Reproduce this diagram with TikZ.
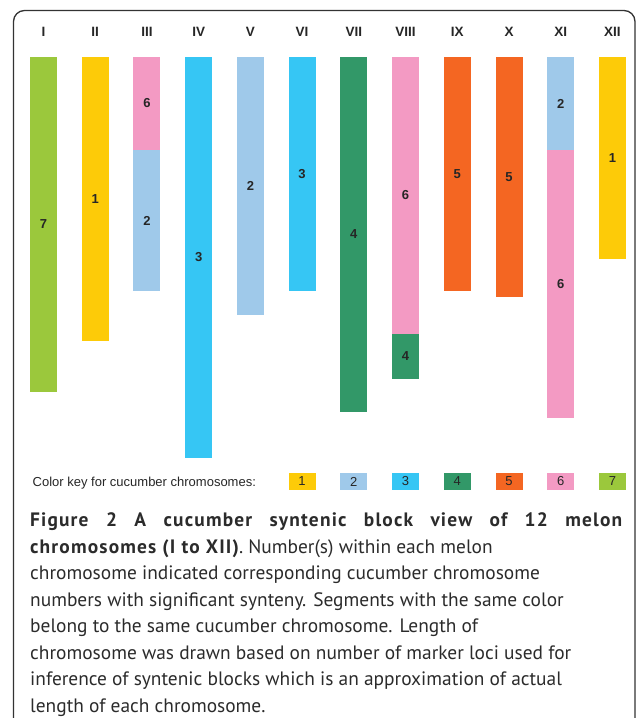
\documentclass[tikz,border=0pt]{standalone}
\usepackage{fontspec}
\setmainfont{Liberation Sans}
\newfontfamily\capfont[BoldFeatures={LetterSpace=6}]{PT Sans}
\definecolor{cyellow}{HTML}{FDCB08}
\definecolor{clblue}{HTML}{9FC9EA}
\definecolor{ccyan}{HTML}{36C6F4}
\definecolor{cdgreen}{HTML}{329868}
\definecolor{corange}{HTML}{F46622}
\definecolor{cpink}{HTML}{F39AC3}
\definecolor{cgreen}{HTML}{9BC83C}
\definecolor{captext}{HTML}{2B2B2B}
\tikzset{
  seg/.style={rectangle, inner sep=0pt, minimum width=27pt, font=\bfseries\fontsize{13}{13}\selectfont, text=black!85},
  hdr/.style={inner sep=0pt, font=\bfseries\fontsize{13.5}{13.5}\selectfont, text=black!85},
  keybox/.style={rectangle, inner sep=0pt, minimum width=27pt, minimum height=17pt, font=\fontsize{13}{13}\selectfont, text=black!85},
  keytext/.style={inner sep=0pt, anchor=west, font=\fontsize{13}{13}\selectfont, text=black!85},
  capline/.style={inner sep=0pt, anchor=base west, font=\capfont\fontsize{19.4}{21}\selectfont, text=captext},
  frame/.style={line width=1.3pt, draw=black!80, rounded corners=11pt}
}
\begin{document}
\begin{tikzpicture}[x=1pt,y=-1pt]
\useasboundingbox (0,0) rectangle (636,718);
\clip (0,0) rectangle (636,718);
\draw[frame] (13.5,10.5) rectangle (635,735);
% header labels
\node[hdr] (hI) at (43.5,31.7) {I};
\node[hdr] (hII) at (95.2,31.7) {II};
\node[hdr] (hIII) at (146.9,31.7) {III};
\node[hdr] (hIV) at (198.7,31.7) {IV};
\node[hdr] (hV) at (250.4,31.7) {V};
\node[hdr] (hVI) at (302.1,31.7) {VI};
\node[hdr] (hVII) at (353.8,31.7) {VII};
\node[hdr] (hVIII) at (405.5,31.7) {VIII};
\node[hdr] (hIX) at (457.3,31.7) {IX};
\node[hdr] (hX) at (509.0,31.7) {X};
\node[hdr] (hXI) at (560.7,31.7) {XI};
\node[hdr] (hXII) at (612.4,31.7) {XII};
% chromosome segments
\node[seg, fill=cgreen, minimum height=335pt] (sI) at (43.5,224.5) {7};
\node[seg, fill=cyellow, minimum height=284pt] (sII) at (95.2,199) {1};
\node[seg, fill=cpink, minimum height=93pt] (sIIIa) at (146.9,103.5) {6};
\node[seg, fill=clblue, minimum height=141pt] (sIIIb) at (146.9,220.5) {2};
\node[seg, fill=ccyan, minimum height=401pt] (sIV) at (198.7,257.5) {3};
\node[seg, fill=clblue, minimum height=258pt] (sV) at (250.4,186) {2};
\node[seg, fill=ccyan, minimum height=234pt] (sVI) at (302.1,174) {3};
\node[seg, fill=cdgreen, minimum height=355pt] (sVII) at (353.8,234.5) {4};
\node[seg, fill=cpink, minimum height=277pt] (sVIIIa) at (405.5,195.5) {6};
\node[seg, fill=cdgreen, minimum height=45pt] (sVIIIb) at (405.5,356.5) {4};
\node[seg, fill=corange, minimum height=234pt] (sIX) at (457.3,174) {5};
\node[seg, fill=corange, minimum height=240pt] (sX) at (509.0,177) {5};
\node[seg, fill=clblue, minimum height=93pt] (sXIa) at (560.7,103.5) {2};
\node[seg, fill=cpink, minimum height=268pt] (sXIb) at (560.7,284) {6};
\node[seg, fill=cyellow, minimum height=202pt] (sXII) at (612.4,158) {1};
% colour key
\node[keytext] (keyt) at (32.5,483) {Color key for cucumber chromosomes:};
\node[keybox, fill=cyellow] (k1) at (302.1,481.5) {1};
\node[keybox, fill=clblue] (k2) at (353.8,481.5) {2};
\node[keybox, fill=ccyan] (k3) at (405.5,481.5) {3};
\node[keybox, fill=cdgreen] (k4) at (457.3,481.5) {4};
\node[keybox, fill=corange] (k5) at (509.0,481.5) {5};
\node[keybox, fill=cpink] (k6) at (560.7,481.5) {6};
\node[keybox, fill=cgreen] (k7) at (612.4,481.5) {7};
% caption
\node[capline] (c1) at (30,526.5) {\makebox[592pt][s]{\bfseries Figure 2 A cucumber syntenic block view of 12 melon}};
\node[capline] (c2) at (30,553) {\textbf{chromosomes (I to XII)}. Number(s) within each melon};
\node[capline] (c3) at (30,579.5) {chromosome indicated corresponding cucumber chromosome};
\node[capline] (c4) at (30,606) {numbers with significant synteny. Segments with the same color};
\node[capline] (c5) at (30,632.5) {belong to the same cucumber chromosome. Length of};
\node[capline] (c6) at (30,659) {chromosome was drawn based on number of marker loci used for};
\node[capline] (c7) at (30,685.5) {inference of syntenic blocks which is an approximation of actual};
\node[capline] (c8) at (30,712) {length of each chromosome.};
\end{tikzpicture}
\end{document}
